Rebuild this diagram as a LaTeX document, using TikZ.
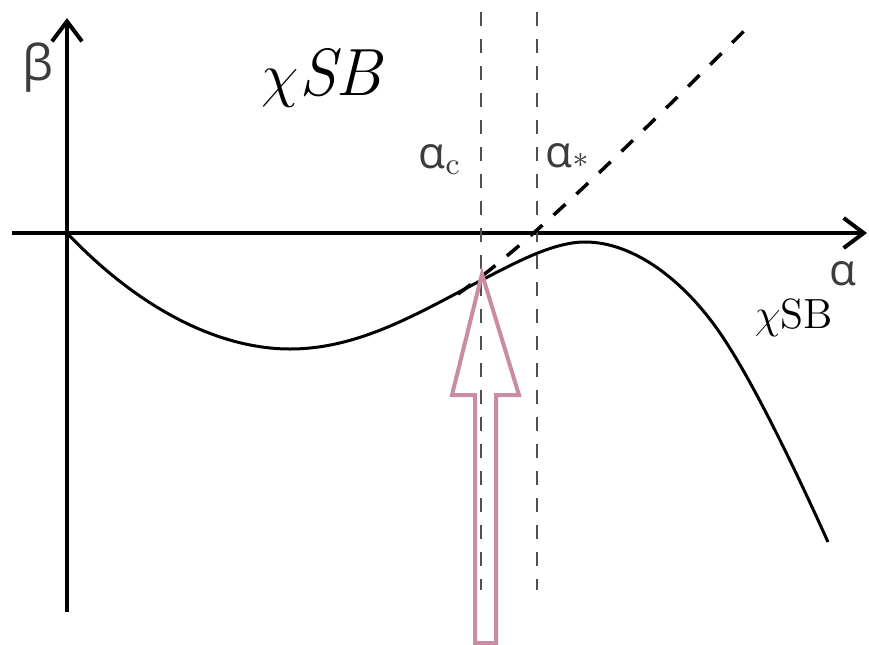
\documentclass[tikz,border=0pt]{standalone}
\usepackage{fontspec}
\newfontfamily\grk{Open Sans}
\usepackage{xcolor}
\usetikzlibrary{arrows.meta}
\definecolor{mauve}{RGB}{200,140,165}
\definecolor{dashgray}{RGB}{80,80,80}
\definecolor{textgray}{RGB}{60,60,60}

\begin{document}
\begin{tikzpicture}[
  x=0.01cm, y=-0.01cm,
  axis/.style={line width=0.04cm, -{Straight Barb[length=2mm, width=3mm]}},
  guide/.style={dashgray, line width=0.02cm, dash pattern=on 0.14cm off 0.13cm},
  tangent/.style={line width=0.035cm, dash pattern=on 0.16cm off 0.15cm},
  curve/.style={line width=0.03cm},
  lbl/.style={inner sep=0pt, font=\fontsize{12}{14}\selectfont},
  greek/.style={inner sep=0pt, textgray, font=\fontsize{12.5}{15}\selectfont\grk},
  hollow/.style={mauve, line width=0.04cm, miter limit=20}
]
\useasboundingbox (0,0) rectangle (869,645);

% Axes
\coordinate (ybot) at (67,612);
\coordinate (ytop) at (67,18);
\coordinate (xleft) at (12,233);
\coordinate (xright) at (867,233);
\draw[axis] (ybot) -- (ytop);
\draw[axis] (xleft) -- (xright);

% Critical values
\coordinate (ctop) at (481,12);
\coordinate (cbot) at (481,590);
\coordinate (stop) at (537,12);
\coordinate (sbot) at (537,590);
\draw[guide] (ctop) -- (cbot);
\draw[guide] (stop) -- (sbot);

% Tangent branch
\coordinate (tstart) at (458,294);
\coordinate (tend) at (752,23);
\draw[tangent] (tstart) .. controls (505,260) and (560,215) .. (tend);

% Curve
\coordinate (orig) at (67,233);
\coordinate (cmin) at (290,349);
\coordinate (ctan) at (480,281);
\coordinate (cmax) at (585,242);
\coordinate (cmid) at (720,333);
\coordinate (cend) at (828,542);
\draw[curve] (orig) .. controls (140,310) and (220,349) .. (cmin)
  .. controls (360,349) and (420,312) .. (ctan)
  .. controls (520,260) and (555,242) .. (cmax)
  .. controls (635,242) and (685,282) .. (cmid)
  .. controls (755,384) and (800,480) .. (cend);

% Marker arrow
\draw[hollow] (482,274) -- (519,395) -- (496,395) -- (496,643) -- (475,643) -- (475,395) -- (452,395) -- cycle;

% Labels
\node[greek, font=\fontsize{14}{16}\selectfont\grk] (beta) at (38,68) {β};
\node[lbl, font=\fontsize{19}{23}\selectfont] (phase) at (323,78) {$\chi$\textit{SB}};
\node[greek] (ac) at (440,160) {α{\rmfamily\textsubscript{c}}};
\node[greek] (as) at (568,160) {α{\rmfamily\textsubscript{*}}};
\node[greek] (alpha) at (843,274) {α};
\node[lbl] (branch) at (794,318) {$\chi$SB};

\end{tikzpicture}
\end{document}
